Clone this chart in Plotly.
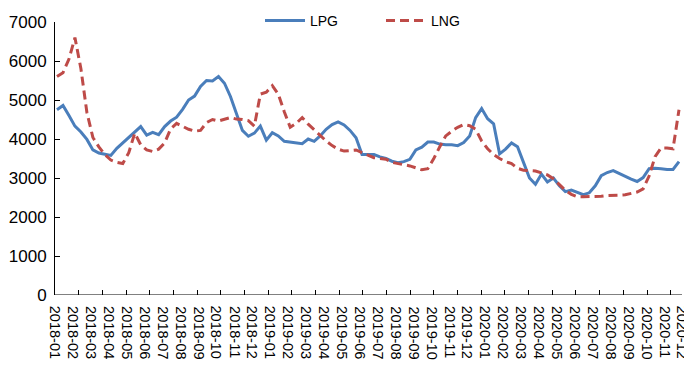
import numpy as np
import plotly.graph_objects as go

# ---------------- data (weekly samples) ----------------
months = [f"{y}-{m:02d}" for y in (2018, 2019, 2020) for m in range(1, 13)]

lpg = [4750, 4860, 4600, 4330, 4180, 3990, 3720, 3640, 3610, 3580,
       3760, 3900, 4040, 4200, 4320, 4100, 4170, 4110, 4320, 4460,
       4560, 4760, 5000, 5100, 5350, 5500, 5490, 5600, 5430, 5090,
       4650, 4220, 4070, 4150, 4330, 3970, 4160, 4080, 3940, 3920,
       3910, 3880, 4000, 3940, 4080, 4250, 4370, 4440, 4360, 4220,
       4030, 3600, 3600, 3600, 3540, 3500, 3430, 3390, 3420, 3480,
       3720, 3790, 3920, 3920, 3870, 3850, 3850, 3830, 3910, 4080,
       4550, 4780, 4520, 4390, 3620, 3740, 3900, 3800, 3400, 3000,
       2840, 3100, 2900, 3000, 2800, 2650, 2690, 2630, 2570, 2620,
       2800, 3060, 3140, 3190, 3110, 3040, 2970, 2910, 3010, 3240,
       3250, 3240, 3220, 3220, 3420]

lng = [5600, 5700, 6050, 6600, 5800, 4680, 4040, 3800, 3600, 3460,
       3400, 3370, 3650, 4150, 3850, 3720, 3680, 3740, 3900, 4260,
       4400, 4320, 4250, 4200, 4220, 4420, 4500, 4460, 4500, 4550,
       4510, 4500, 4470, 4330, 5150, 5200, 5370, 5150, 4700, 4300,
       4400, 4550, 4380, 4230, 4080, 3950, 3830, 3740, 3690, 3710,
       3720, 3650, 3580, 3520, 3500, 3480, 3400, 3370, 3340, 3310,
       3260, 3210, 3240, 3500, 3800, 4080, 4200, 4300, 4370, 4340,
       4250, 3950, 3750, 3600, 3500, 3420, 3370, 3250, 3200, 3190,
       3180, 3130, 3080, 2980, 2820, 2680, 2580, 2520, 2520, 2520,
       2520, 2530, 2550, 2550, 2560, 2570, 2600, 2640, 2720, 3050,
       3550, 3770, 3770, 3750, 4750]

yticks = [0, 1000, 2000, 3000, 4000, 5000, 6000, 7000]

# ---------------- layout geometry (window pixel coordinates) ----------------
OFF = 8                     # default page margin of the HTML body
WIN_W, WIN_H = 692, 381
W, H = WIN_W - OFF, WIN_H - OFF
PLOT_L, PLOT_R, PLOT_T, PLOT_B = 55, 687, 22, 295   # window px
L, T = PLOT_L - OFF, PLOT_T - OFF
R, B = W - (PLOT_R - OFF), H - (PLOT_B - OFF)
plot_w = PLOT_R - PLOT_L
plot_h = PLOT_B - PLOT_T
x0_px, step_px = 57.0, (679.0 - 57.0) / (len(lpg) - 1)


def px_to_idx(px):
    return (px - x0_px) / step_px


def px_to_paper_x(px):
    return (px - PLOT_L) / plot_w


def px_to_paper_y(py):
    return (PLOT_B - py) / plot_h


label_px = 55.7 + 17.92 * np.arange(len(months))
label_vals = px_to_idx(label_px)

tick_step_px = 23.68
n_ticks = 26

x = np.arange(len(lpg))

fig = go.Figure()
fig.add_trace(go.Scatter(x=x, y=lpg, name="LPG", mode="lines",
                         line=dict(color="#4A7EBB", width=3)))
fig.add_trace(go.Scatter(x=x, y=lng, name="LNG", mode="lines",
                         line=dict(color="#BE4B48", width=3, dash="9px,5px")))
fig.add_trace(go.Scatter(x=[], y=[], xaxis="x2", showlegend=False,
                         hoverinfo="skip"))

font = "Liberation Sans, Arial, sans-serif"

fig.update_layout(
    width=W, height=H,
    margin=dict(l=L, r=R, t=T, b=B, autoexpand=False),
    paper_bgcolor="white", plot_bgcolor="white",
    font=dict(family=font, color="black"),
    showlegend=True,
    legend=dict(orientation="h", x=px_to_paper_x(260), xanchor="left",
                y=px_to_paper_y(21), yanchor="middle",
                font=dict(size=14, family=font), bgcolor="rgba(0,0,0,0)",
                entrywidth=66, entrywidthmode="pixels",
                itemwidth=40),
    xaxis=dict(domain=[0, 1], automargin=False,
               range=[px_to_idx(PLOT_L), px_to_idx(PLOT_R)],
               showticklabels=False, ticks="", showline=False,
               showgrid=False, zeroline=False),
    xaxis2=dict(overlaying="x", anchor="y", side="bottom", automargin=False,
                range=[0, plot_w / tick_step_px],
                tickmode="array", tickvals=list(range(0, n_ticks + 1)),
                ticks="inside", ticklen=5, tickcolor="black", tickwidth=1,
                showline=False, showgrid=False, zeroline=False,
                showticklabels=False),
    yaxis=dict(range=[0, 7000], tickvals=yticks, automargin=False,
               ticks="inside", ticklen=5, tickcolor="black",
               showline=True, linecolor="black", linewidth=1,
               showgrid=False, zeroline=False, ticklabelstandoff=4,
               tickfont=dict(size=17, family=font)),
)

# month labels along the x axis (rotated, reading downwards)
for val, txt in zip(label_vals, months):
    fig.add_annotation(x=val, xref="x", y=px_to_paper_y(305), yref="paper",
                       text=txt, textangle=90, showarrow=False,
                       xanchor="center", yanchor="top",
                       font=dict(size=14.5, family=font, color="black"),
                       borderpad=0)

# x axis line (ends a little before the label area)
fig.add_shape(type="line", xref="paper", yref="y",
              x0=0, x1=px_to_paper_x(682), y0=0, y1=0,
              line=dict(color="black", width=1))
# dark right-hand border of the picture
fig.add_shape(type="line", xref="paper", yref="paper", layer="below",
              x0=px_to_paper_x(691), x1=px_to_paper_x(691),
              y0=-0.5, y1=1.2, line=dict(color="black", width=2))

fig.write_html("out.html")
